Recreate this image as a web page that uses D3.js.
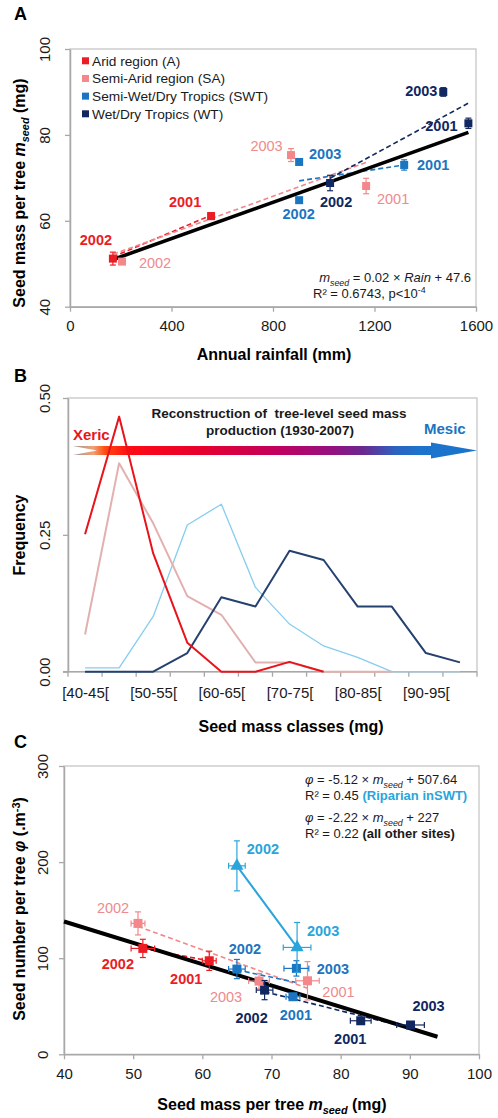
<!DOCTYPE html>
<html><head><meta charset="utf-8">
<script src="https://cdn.jsdelivr.net/npm/d3@7"></script>
<style>
body{margin:0;background:#fff}
svg{display:block}
text{font-family:"Liberation Sans",Arial,sans-serif}
</style>
</head><body>
<svg id="c" width="498" height="1118"></svg>
<script>
// ================= DATA =================
// ---- Panel A : seed mass vs annual rainfall ----
const legendA = ["Arid region (A)", "Semi-Arid region (SA)", "Semi-Wet/Dry Tropics (SWT)", "Wet/Dry Tropics (WT)"];
const aridA = [{year:"2002", rain:169, mass:51.2, se:1.5}, {year:"2001", rain:556, mass:61.1, se:0.8}];
const semiAridA = [{year:"2002", rain:205, mass:50.5, se:0.5}, {year:"2003", rain:871, mass:75.3, se:1.5}, {year:"2001", rain:1167, mass:68.1, se:1.8}];
const swtA = [{year:"2003", rain:903, mass:73.7, se:0.5}, {year:"2002", rain:903, mass:64.8, se:0}, {year:"2001", rain:1317, mass:73.0, se:1.2}];
const wtA = [{year:"2002", rain:1025, mass:68.8, se:1.8}, {year:"2003", rain:1471, mass:90.0, se:1.0}, {year:"2001", rain:1570, mass:82.7, se:1.2}];
const fitAllA = [[170, 51.0], [1570, 80.6]];
const fitAridA = [[169, 51.6], [556, 61.3]];
const fitSemiAridA = [[170, 52.2], [1167, 73.6]];
const fitSwtA = [[903, 69.3], [1317, 73.0]];
const fitWtA = [[1025, 69.9], [1570, 87.4]];
const xTicksA = [0, 400, 800, 1200, 1600];
const yTicksA = [40, 60, 80, 100];

// ---- Panel B : frequency distributions of seed mass classes ----
const classesB = ["[40-45[","[45-50[","[50-55[","[55-60[","[60-65[","[65-70[","[70-75[","[75-80[","[80-85[","[85-90[","[90-95[","[95-100["];
const aridB = [0.251, 0.466, 0.216, 0.053, 0, 0, 0.018, 0];
const semiAridB = [0.068, 0.381, 0.271, 0.138, 0.104, 0.017, 0.017, 0, 0, 0];
const swtB = [0.007, 0.007, 0.101, 0.268, 0.306, 0.154, 0.087, 0.047, 0.026, 0, 0, 0];
const wtB = [0, 0, 0, 0.034, 0.136, 0.119, 0.221, 0.204, 0.119, 0.119, 0.034, 0.017];
const yTicksB = [0, 0.25, 0.5];

// ---- Panel C : seed number vs seed mass ----
const aridC = [{year:"2002", mass:51.4, num:110.2, ex:1.7, ey:9.5}, {year:"2001", mass:61.0, num:97.3, ex:1.0, ey:10}];
const semiAridC = [{year:"2002", mass:50.7, num:136.2, ex:1.0, ey:12}, {year:"2003", mass:68.2, num:76.2, ex:1.5, ey:8}, {year:"2001", mass:75.2, num:76.5, ex:1.7, ey:20}];
const swtC = [{year:"2002", mass:65.0, num:88.7, ex:1.2, ey:10}, {year:"2003", mass:73.6, num:89.4, ex:1.8, ey:8}, {year:"2001", mass:73.1, num:59.9, ex:1.0, ey:3}];
const wtC = [{year:"2002", mass:69.0, num:66.8, ex:1.2, ey:10}, {year:"2001", mass:82.9, num:34.9, ex:1.5, ey:3}, {year:"2003", mass:90.1, num:30.5, ex:2.0, ey:3}];
const riparianC = [{year:"2002", mass:65.0, num:196.1, ex:1.2, ey:26}, {year:"2003", mass:73.7, num:111.2, ex:2.0, ey:26}];
const fitAllC = [[40, 138.2], [94, 18.3]];
const fitSemiAridC = [[50.7, 133.1], [75.2, 68.7]];
const fitSwtC = [[65.0, 87.8], [73.6, 74.7]];
const fitWtC = [[69.0, 65.1], [90.1, 27.1]];
const xTicksC = [40, 50, 60, 70, 80, 90, 100];
const yTicksC = [0, 100, 200, 300];

// ================= LAYOUT / STYLE =================
const C_ARID = "#EC1C24", C_SA = "#F3878A", C_SWT = "#1B75C0", C_WT = "#102760", C_RIP = "#29A5DC";
const B_ARID = "#E8141B", B_SA = "#E2B1AF", B_SWT = "#86CDEF", B_WT = "#24416F";
const FRAME = "#C6C6C6", AXIS = "#A8A8A8", TXT = "#1a1a1a";
// year-label offsets (px, relative to marker)
const offA = {arid:[[-17,-19],[-26,-14]], sa:[[33,1.5],[-24.5,-9],[27,13]], swt:[[26,-8],[-0.5,14],[29,0]], wt:[[6,19],[-22,-1],[-27,3]]};
const offC = {arid:[[-25,16],[-23,18]], sa:[[-25,-15],[-33,15.5],[31,11]], swt:[[8,-20],[36.5,0.5],[3,18]], wt:[[-13,28],[-10.5,18.5],[18,-19]], rip:[[26,-16.5],[26,-16.5]]};

const svg = d3.select("#c");

function rich(sel, parts) {
  let shifted = 0;
  parts.forEach(p => {
    const ts = sel.append("tspan").text(p.t);
    let want = p.sub ? 4 : (p.sup ? -5 : 0);
    if (want !== shifted) { ts.attr("dy", want - shifted); shifted = want; }
    if (p.sub || p.sup) ts.attr("font-size", "0.68em");
    if (p.i) ts.attr("font-style", "italic");
    if (p.b) ts.attr("font-weight", "bold");
    if (p.c) ts.attr("fill", p.c);
  });
  return sel;
}

function frame(box) {
  svg.append("rect").attr("x", box.l).attr("y", box.t).attr("width", box.r - box.l).attr("height", box.b - box.t)
    .attr("fill", "none").attr("stroke", FRAME).attr("stroke-width", 1.3);
}

function styleAxis(g, rotateLabels, off) {
  g.select(".domain").attr("stroke", AXIS).attr("stroke-width", 1.5);
  g.selectAll(".tick line").attr("stroke", AXIS).attr("stroke-width", 1.3);
  g.selectAll(".tick text").attr("fill", TXT).attr("font-size", 15).attr("font-family", '"Liberation Sans",Arial,sans-serif');
  if (rotateLabels) {
    g.selectAll(".tick text").attr("transform", "rotate(-90)").attr("x", 0).attr("y", -off).attr("dy", "0.35em").attr("text-anchor", "middle");
  }
}

function panelLetter(t, x, y) {
  svg.append("text").attr("x", x).attr("y", y).attr("font-size", 18).attr("font-weight", "bold").attr("fill", "#000").text(t);
}

function yTitle(cx, cy, parts) {
  rich(svg.append("text").attr("transform", `translate(${cx},${cy}) rotate(-90)`).attr("text-anchor", "middle")
    .attr("font-size", 16).attr("font-weight", "bold").attr("fill", "#000"), parts);
}
function xTitle(cx, y, parts) {
  rich(svg.append("text").attr("x", cx).attr("y", y).attr("text-anchor", "middle")
    .attr("font-size", 16).attr("font-weight", "bold").attr("fill", "#000"), parts);
}

// ================= PANEL A =================
const A = {l:70, r:476, t:49, b:306.7};
const xA = d3.scaleLinear().domain([0, 1600]).range([A.l, A.r]);
const yA = d3.scaleLinear().domain([40, 100]).range([A.b, A.t]);
frame(A);
styleAxis(svg.append("g").attr("transform", `translate(0,${A.b})`)
  .call(d3.axisBottom(xA).tickValues(xTicksA).tickSize(5).tickSizeOuter(0).tickPadding(9).tickFormat(d3.format("d"))), false);
styleAxis(svg.append("g").attr("transform", `translate(${A.l},0)`)
  .call(d3.axisLeft(yA).tickValues(yTicksA).tickSize(5).tickSizeOuter(0)), true, 25);

const lineA = d3.line().x(d => xA(d[0])).y(d => yA(d[1]));
[[fitAridA, C_ARID], [fitSemiAridA, C_SA], [fitSwtA, C_SWT], [fitWtA, C_WT]].forEach(([f, c]) => {
  svg.append("path").attr("d", lineA(f)).attr("fill", "none").attr("stroke", c).attr("stroke-width", 1.6).attr("stroke-dasharray", "5,3");
});
svg.append("path").attr("d", lineA(fitAllA)).attr("fill", "none").attr("stroke", "#000").attr("stroke-width", 3.6);

function seriesA(data, color, offs, bold, labColor) {
  const g = svg.append("g");
  data.forEach((d, i) => {
    const cx = xA(d.rain), cy = yA(d.mass);
    if (d.se > 0) {
      const y1 = yA(d.mass + d.se), y2 = yA(d.mass - d.se);
      g.append("line").attr("x1", cx).attr("x2", cx).attr("y1", y1).attr("y2", y2).attr("stroke", color).attr("stroke-width", 1.2);
      [y1, y2].forEach(yy => g.append("line").attr("x1", cx - 3).attr("x2", cx + 3).attr("y1", yy).attr("y2", yy).attr("stroke", color).attr("stroke-width", 1.2));
    }
    g.append("rect").attr("x", cx - 4).attr("y", cy - 4).attr("width", 8).attr("height", 8).attr("fill", color);
    g.append("text").attr("x", cx + offs[i][0]).attr("y", cy + offs[i][1]).attr("dy", "0.35em").attr("text-anchor", "middle")
      .attr("font-size", 14.5).attr("font-weight", bold ? "bold" : "normal").attr("fill", labColor || color).text(d.year);
  });
}
seriesA(aridA, C_ARID, offA.arid, true);
seriesA(semiAridA, C_SA, offA.sa, false, "#F08A8D");
seriesA(swtA, C_SWT, offA.swt, true);
seriesA(wtA, C_WT, offA.wt, true);

// legend A
const legColors = [C_ARID, C_SA, C_SWT, C_WT];
const legY = d3.scalePoint().domain(legendA).range([61, 114]);
legendA.forEach((name, i) => {
  svg.append("rect").attr("x", 82).attr("y", legY(name) - 3.7).attr("width", 7).attr("height", 7).attr("fill", legColors[i]);
  svg.append("text").attr("x", 92).attr("y", legY(name)).attr("dy", "0.35em").attr("font-size", 13.7).attr("fill", TXT).text(name);
});

// equation A
rich(svg.append("text").attr("x", 471).attr("y", 281.5).attr("text-anchor", "end").attr("font-size", 13).attr("fill", TXT),
  [{t:"m", i:1}, {t:"seed", sub:1, i:1}, {t:" = 0.02 × "}, {t:"Rain", i:1}, {t:" + 47.6"}]);
rich(svg.append("text").attr("x", 313).attr("y", 298).attr("font-size", 13).attr("fill", TXT),
  [{t:"R² = 0.6743, p<10"}, {t:"-4", sup:1}]);

panelLetter("A", 14, 19.5);
xTitle(274, 360, [{t:"Annual rainfall (mm)"}]);
yTitle(25, 193, [{t:"Seed mass per tree "}, {t:"m", i:1}, {t:"seed", sub:1, i:1}, {t:" (mg)"}]);

// ================= PANEL B =================
const B = {l:68, r:477, t:398, b:671.7};
const xB = d3.scalePoint().domain(classesB).range([B.l, B.r]).padding(0.5);
const yB = d3.scaleLinear().domain([0, 0.5]).range([B.b, B.t]);
const stepB = xB.step();
frame(B);
// x axis: ticks at class boundaries, labels on every other class
const gxB = svg.append("g").attr("transform", `translate(0,${B.b})`)
  .call(d3.axisBottom(xB).tickValues(classesB.filter((c, i) => i % 2 === 0)).tickSize(0).tickSizeOuter(0).tickPadding(16));
styleAxis(gxB, false);
gxB.select(".domain").attr("d", `M${B.l - 5},0H${B.r}`);
d3.range(classesB.length + 1).forEach(i => {
  const x = B.l + i * stepB;
  svg.append("line").attr("x1", x).attr("x2", x).attr("y1", B.b).attr("y2", B.b + 5).attr("stroke", AXIS).attr("stroke-width", 1.3);
});
styleAxis(svg.append("g").attr("transform", `translate(${B.l},0)`)
  .call(d3.axisLeft(yB).tickValues(yTicksB).tickSize(5).tickSizeOuter(0).tickFormat(d3.format(".2f"))), true, 23);

// gradient arrow
const defs = svg.append("defs");
const grad = defs.append("linearGradient").attr("id", "arrowGrad").attr("gradientUnits", "userSpaceOnUse")
  .attr("x1", 73).attr("x2", 476).attr("y1", 0).attr("y2", 0);
[[0, "#9a9aa0"], [0.05, "#f3a070"], [0.08, "#ff4a10"], [0.14, "#ff0a14"], [0.32, "#e6002e"], [0.5, "#c2005c"],
 [0.64, "#951080"], [0.72, "#6a2890"], [0.8, "#2d62c0"], [0.86, "#1c73cb"], [1, "#1a74cc"]]
  .forEach(([o, c]) => grad.append("stop").attr("offset", o).attr("stop-color", c));
const ay = 450.5;
svg.append("path").attr("fill", "url(#arrowGrad)")
  .attr("d", `M73,${ay - 4.5} L431,${ay - 4.5} L431,${ay - 8} L477,${ay} L431,${ay + 8} L431,${ay + 4.5} L73,${ay + 4.5} L97,${ay} Z`);

const lineB = d3.line().x((d, i) => xB(classesB[i])).y(d => yB(d));
[[swtB, B_SWT, 1.3], [semiAridB, B_SA, 2], [wtB, B_WT, 2], [aridB, B_ARID, 2]].forEach(([s, c, w]) => {
  svg.append("path").attr("d", lineB(s)).attr("fill", "none").attr("stroke", c).attr("stroke-width", w).attr("stroke-linejoin", "round");
});

svg.append("text").attr("x", 279).attr("y", 418).attr("text-anchor", "middle").attr("font-size", 13.5).attr("font-weight", "bold").attr("fill", TXT)
  .style("white-space", "pre").text("Reconstruction of  tree-level seed mass");
svg.append("text").attr("x", 280).attr("y", 435).attr("text-anchor", "middle").attr("font-size", 13.5).attr("font-weight", "bold").attr("fill", TXT)
  .text("production (1930-2007)");
svg.append("text").attr("x", 73).attr("y", 440).attr("font-size", 15).attr("font-weight", "bold").attr("fill", "#E8141B").text("Xeric");
svg.append("text").attr("x", 424).attr("y", 433.5).attr("font-size", 15).attr("font-weight", "bold").attr("fill", "#1B75C0").text("Mesic");

panelLetter("B", 14, 382);
xTitle(291, 732, [{t:"Seed mass classes (mg)"}]);
yTitle(25, 535, [{t:"Frequency"}]);

// ================= PANEL C =================
const Cb = {l:64, r:479, t:766, b:1054.3};
const xC = d3.scaleLinear().domain([40, 100]).range([Cb.l, Cb.r]);
const yC = d3.scaleLinear().domain([0, 300]).range([Cb.b, Cb.t]);
frame(Cb);
styleAxis(svg.append("g").attr("transform", `translate(0,${Cb.b})`)
  .call(d3.axisBottom(xC).tickValues(xTicksC).tickSize(5).tickSizeOuter(0).tickPadding(9)), false);
styleAxis(svg.append("g").attr("transform", `translate(${Cb.l},0)`)
  .call(d3.axisLeft(yC).tickValues(yTicksC).tickSize(5).tickSizeOuter(0)), true, 21);

const lineC = d3.line().x(d => xC(d[0])).y(d => yC(d[1]));
[[aridC.map(d => [d.mass, d.num]), C_ARID], [fitSemiAridC, C_SA], [fitSwtC, C_SWT], [fitWtC, C_WT]].forEach(([f, c]) => {
  svg.append("path").attr("d", lineC(f)).attr("fill", "none").attr("stroke", c).attr("stroke-width", 1.6).attr("stroke-dasharray", "5,3");
});
svg.append("path").attr("d", lineC(fitAllC)).attr("fill", "none").attr("stroke", "#000").attr("stroke-width", 4);
svg.append("path").attr("d", lineC(riparianC.map(d => [d.mass, d.num]))).attr("fill", "none").attr("stroke", C_RIP).attr("stroke-width", 2);

function seriesC(data, color, offs, bold, shape, labColor) {
  const g = svg.append("g");
  data.forEach((d, i) => {
    const cx = xC(d.mass), cy = yC(d.num);
    const y1 = yC(d.num + d.ey), y2 = yC(d.num - d.ey), x1 = xC(d.mass - d.ex), x2 = xC(d.mass + d.ex);
    const st = l => l.attr("stroke", color).attr("stroke-width", 1.2);
    st(g.append("line").attr("x1", cx).attr("x2", cx).attr("y1", y1).attr("y2", y2));
    [y1, y2].forEach(yy => st(g.append("line").attr("x1", cx - 3).attr("x2", cx + 3).attr("y1", yy).attr("y2", yy)));
    st(g.append("line").attr("x1", x1).attr("x2", x2).attr("y1", cy).attr("y2", cy));
    [x1, x2].forEach(xx => st(g.append("line").attr("x1", xx).attr("x2", xx).attr("y1", cy - 3).attr("y2", cy + 3)));
    if (shape === "tri") {
      g.append("path").attr("transform", `translate(${cx},${cy})`).attr("d", d3.symbol(d3.symbolTriangle, 75)()).attr("fill", color);
    } else {
      g.append("rect").attr("x", cx - 4.5).attr("y", cy - 4.5).attr("width", 9).attr("height", 9).attr("fill", color);
    }
    g.append("text").attr("x", cx + offs[i][0]).attr("y", cy + offs[i][1]).attr("dy", "0.35em").attr("text-anchor", "middle")
      .attr("font-size", 14.5).attr("font-weight", bold ? "bold" : "normal").attr("fill", labColor || color).text(d.year);
  });
}
seriesC(semiAridC, C_SA, offC.sa, false, "sq", "#F08A8D");
seriesC(aridC, C_ARID, offC.arid, true, "sq");
seriesC(swtC, C_SWT, offC.swt, true, "sq");
seriesC(wtC, C_WT, offC.wt, true, "sq");
seriesC(riparianC, C_RIP, offC.rip, true, "tri");

// equations C
const eqC = [
  [783.5, [{t:"φ", i:1}, {t:" = -5.12 × "}, {t:"m", i:1}, {t:"seed", sub:1, i:1}, {t:" + 507.64"}]],
  [800, [{t:"R² = 0.45 "}, {t:"(Riparian inSWT)", b:1, c:C_RIP}]],
  [821.5, [{t:"φ", i:1}, {t:" = -2.22 × "}, {t:"m", i:1}, {t:"seed", sub:1, i:1}, {t:" + 227"}]],
  [837.5, [{t:"R² = 0.22 "}, {t:"(all other sites)", b:1}]]
];
eqC.forEach(([y, parts]) => rich(svg.append("text").attr("x", 305).attr("y", y).attr("font-size", 13).attr("fill", TXT), parts));

panelLetter("C", 14, 748);
xTitle(272, 1110, [{t:"Seed mass per tree "}, {t:"m", i:1}, {t:"seed", sub:1, i:1}, {t:" (mg)"}]);
yTitle(25, 909, [{t:"Seed number per tree "}, {t:"φ", i:1}, {t:" (.m"}, {t:"-3", sup:1}, {t:")"}]);
</script>
</body></html>
